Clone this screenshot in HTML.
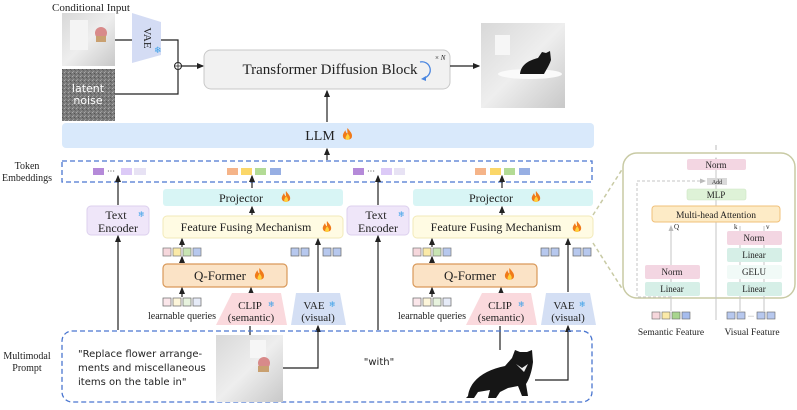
<!DOCTYPE html>
<html><head><meta charset="utf-8"><style>
body{margin:0;background:#fff;}
svg text{font-family:"Liberation Serif",serif;fill:#222;}
.c{font-family:"DejaVu Sans","Liberation Sans",sans-serif !important;}
</style></head><body>
<svg width="797" height="405" viewBox="0 0 797 405" xmlns="http://www.w3.org/2000/svg">
<defs>
<marker id="a" markerWidth="6" markerHeight="6" refX="5" refY="3" orient="auto"><path d="M0,0.5 L6,3 L0,5.5 z" fill="#222"/></marker>
<marker id="g" markerWidth="6" markerHeight="6" refX="5" refY="3" orient="auto"><path d="M0,0.5 L6,3 L0,5.5 z" fill="#bbb"/></marker>
<symbol id="f" viewBox="0 0 10 12"><path d="M5,0 C7,3 10,5 9,8.5 C8,11.5 2,11.5 1,8.5 C0,6 2,4 3,2 C3.5,4 4,5 5,5 C5,3 4.5,1.5 5,0z" fill="#f07a1a"/><path d="M5,5 C6.5,7 7.5,8 6.8,10 C6,11.3 4,11.3 3.3,10 C2.8,8.5 4,7.5 5,5z" fill="#ffd23a"/></symbol>
<linearGradient id="img" x1="0" y1="0" x2="1" y2="1"><stop offset="0" stop-color="#d8d8d8"/><stop offset="0.5" stop-color="#eeeeee"/><stop offset="1" stop-color="#c8c8c8"/></linearGradient>
<pattern id="noise" width="4" height="4" patternUnits="userSpaceOnUse"><rect width="4" height="4" fill="#7a7a7a"/><rect width="1" height="1" fill="#aaa"/><rect x="2" y="1" width="1" height="1" fill="#555"/><rect x="1" y="3" width="1" height="1" fill="#999"/><rect x="3" y="2" width="1" height="1" fill="#666"/></pattern>
</defs>

<text x="91" y="11" font-size="11" text-anchor="middle">Conditional Input</text>
<rect x="62" y="13" width="53" height="53" fill="url(#img)"/>
<rect x="70" y="20" width="18" height="30" fill="#f4f4f4"/>
<circle cx="101" cy="33" r="6" fill="#d88a8a"/><rect x="96" y="36" width="10" height="6" fill="#c9a070"/>
<rect x="62" y="69" width="53" height="52" fill="url(#noise)"/>
<text x="88" y="92" font-size="11" text-anchor="middle" class="c" style="fill:#fff">latent</text>
<text x="88" y="104" font-size="11" text-anchor="middle" class="c" style="fill:#fff">noise</text>
<polygon points="132,13 161,22 161,55 132,63" fill="#d4dcf4"/>
<text x="144" y="38" font-size="11" transform="rotate(90 144 38)" text-anchor="middle">VAE</text>
<text x="154" y="53" font-size="9" class="c" style="fill:#3aa0e8">❄</text>
<path d="M115,40 H132" stroke="#222" stroke-width="1.2" fill="none"/>
<path d="M161,40 H178 V62" stroke="#222" stroke-width="1.2" fill="none"/>
<path d="M115,94 H178 V70" stroke="#222" stroke-width="1.2" fill="none"/>
<circle cx="178" cy="66" r="3.5" fill="#fff" stroke="#222" stroke-width="1"/>
<path d="M175,66 H181 M178,63 V69" stroke="#222" stroke-width="0.8"/>
<path d="M181.5,66 H203" stroke="#222" stroke-width="1.2" marker-end="url(#a)"/>
<rect x="204" y="50" width="246" height="39" rx="7" fill="#f1f1f1" stroke="#c8c8c8"/>
<text x="330" y="74" font-size="15" text-anchor="middle">Transformer Diffusion Block</text>
<path d="M420,62 A8,8 0 1 1 424,78" stroke="#4a86e0" stroke-width="1.3" fill="none"/>
<path d="M421,79 L426,76 L426,81z" fill="#4a86e0"/>
<text x="435" y="60" font-size="7">× <tspan font-style="italic">N</tspan></text>
<path d="M450,66 H479" stroke="#222" stroke-width="1.2" marker-end="url(#a)"/>
<rect x="481" y="23" width="84" height="85" fill="url(#img)"/>
<rect x="495" y="35" width="15" height="20" fill="#f6f6f6"/>
<ellipse cx="530" cy="74" rx="32" ry="5" fill="#fafafa"/>
<path d="M520,74 C521,64 530,60 538,58 L542,52 L546,53 L550,51 L551,60 C549,66 546,70 544,74 z" fill="#161616"/>
<path d="M327,122 V91" stroke="#222" stroke-width="1.2" marker-end="url(#a)"/>
<rect x="62" y="123" width="532" height="25" rx="4" fill="#d9e9fb"/>
<text x="320" y="140" font-size="14" text-anchor="middle">LLM</text>
<use href="#f" x="342" y="128" width="11" height="13"/>
<path d="M327,160 V149" stroke="#222" stroke-width="1.2" marker-end="url(#a)"/>

<text x="27" y="169" font-size="10" text-anchor="middle">Token</text>
<text x="27" y="181" font-size="10" text-anchor="middle">Embeddings</text>
<rect x="62" y="161" width="530" height="21" fill="none" stroke="#4a76d0" stroke-width="1.3" stroke-dasharray="5,3"/>
<g>
<rect x="93" y="168" width="11" height="7" fill="#b58ad9"/><text x="107" y="174" font-size="8">···</text>
<rect x="121" y="168" width="11" height="7" fill="#dccaf7"/><rect x="134" y="168" width="12" height="7" fill="#e7e2f4"/>
<rect x="227" y="168" width="11" height="7" fill="#f5b489"/><rect x="241" y="168" width="11" height="7" fill="#fbd769"/>
<rect x="255" y="168" width="11" height="7" fill="#b3db95"/><rect x="270" y="168" width="11" height="7" fill="#97afe3"/>
<rect x="353" y="168" width="11" height="7" fill="#b58ad9"/><text x="367" y="174" font-size="8">···</text>
<rect x="381" y="168" width="11" height="7" fill="#dccaf7"/><rect x="394" y="168" width="11" height="7" fill="#e7e2f4"/>
<rect x="475" y="168" width="11" height="7" fill="#f5b489"/><rect x="490" y="168" width="11" height="7" fill="#fbd769"/>
<rect x="504" y="168" width="11" height="7" fill="#b3db95"/><rect x="519" y="168" width="11" height="7" fill="#97afe3"/>
</g>

<g id="te">
<rect x="87" y="206" width="62" height="29" rx="4" fill="#efe6f9" stroke="#dcd0ee"/>
<text x="116" y="219" font-size="12" text-anchor="middle">Text</text>
<text x="118" y="232" font-size="12" text-anchor="middle">Encoder</text>
<text x="138" y="217" font-size="8" class="c" style="fill:#3aa0e8">❄</text>
<path d="M118,330 V236" stroke="#222" stroke-width="1.2" marker-end="url(#a)"/>
<path d="M118,205 V176" stroke="#222" stroke-width="1.2" marker-end="url(#a)"/>
</g>
<use href="#te" x="260" y="0"/>
<g id="br">
<rect x="163" y="189" width="180" height="17" rx="3" fill="#d8f5f5"/>
<text x="241" y="202" font-size="12" text-anchor="middle">Projector</text>
<use href="#f" x="281" y="191" width="10" height="12"/>
<path d="M252,188 V176" stroke="#222" stroke-width="1.2" marker-end="url(#a)"/>
<path d="M252,215 V207" stroke="#222" stroke-width="1.2" marker-end="url(#a)"/>
<rect x="163" y="216" width="180" height="22" rx="4" fill="#fffbe3" stroke="#f2eab8"/>
<text x="246" y="231" font-size="12" text-anchor="middle">Feature Fusing Mechanism</text>
<use href="#f" x="322" y="221" width="10" height="12"/>
<rect x="163" y="248" width="8" height="8" fill="#f6d7dc" stroke="#777" stroke-width="0.7"/>
<rect x="173" y="248" width="8" height="8" fill="#fbeaa8" stroke="#777" stroke-width="0.7"/>
<rect x="183" y="248" width="8" height="8" fill="#c8e5b4" stroke="#777" stroke-width="0.7"/>
<rect x="193" y="248" width="8" height="8" fill="#b7c8ee" stroke="#777" stroke-width="0.7"/>
<path d="M182,247 V239" stroke="#222" stroke-width="1.2" marker-end="url(#a)"/>
<path d="M182,263 V257" stroke="#222" stroke-width="1.2" marker-end="url(#a)"/>
<rect x="291" y="248" width="8" height="8" fill="#b7c8ee" stroke="#666" stroke-width="0.7"/>
<rect x="301" y="248" width="8" height="8" fill="#b7c8ee" stroke="#666" stroke-width="0.7"/>
<rect x="323" y="248" width="8" height="8" fill="#b7c8ee" stroke="#666" stroke-width="0.7"/>
<rect x="333" y="248" width="8" height="8" fill="#b7c8ee" stroke="#666" stroke-width="0.7"/>
<path d="M318,292 V239" stroke="#222" stroke-width="1.2" marker-end="url(#a)"/>
<rect x="163" y="264" width="124" height="23" rx="4" fill="#fbe3c6" stroke="#d9995a" stroke-width="1.2"/>
<text x="220" y="280" font-size="13" text-anchor="middle">Q-Former</text>
<use href="#f" x="254" y="268" width="11" height="13"/>
<rect x="163" y="298" width="8" height="8" fill="#fbe6ea" stroke="#666" stroke-width="0.7"/>
<rect x="173" y="298" width="8" height="8" fill="#fdf6da" stroke="#666" stroke-width="0.7"/>
<rect x="183" y="298" width="8" height="8" fill="#e7f3de" stroke="#666" stroke-width="0.7"/>
<rect x="193" y="298" width="8" height="8" fill="#e6ebf8" stroke="#666" stroke-width="0.7"/>
<path d="M182,297 V288" stroke="#222" stroke-width="1.2" marker-end="url(#a)"/>
<path d="M251,292 V288" stroke="#222" stroke-width="1.2" marker-end="url(#a)"/>
<text x="182" y="319" font-size="10" text-anchor="middle">learnable queries</text>
<polygon points="232,293 281,293 287,325 216,325" fill="#fad9dd"/>
<text x="250" y="309" font-size="11" text-anchor="middle">CLIP</text>
<text x="268" y="307" font-size="8" class="c" style="fill:#3aa0e8">❄</text>
<text x="251" y="321" font-size="11" text-anchor="middle">(semantic)</text>
<polygon points="296,293 340,293 346,325 291,325" fill="#d4dff4"/>
<text x="314" y="309" font-size="11" text-anchor="middle">VAE</text>
<text x="329" y="307" font-size="8" class="c" style="fill:#3aa0e8">❄</text>
<text x="318" y="321" font-size="11" text-anchor="middle">(visual)</text>
</g>
<use href="#br" x="250" y="0"/>
<path d="M250,335 V326" stroke="#222" stroke-width="1.2" fill="none"/>
<path d="M283,368 H318 V326" stroke="#222" stroke-width="1.2" fill="none" marker-end="url(#a)"/>
<path d="M500,350 V326" stroke="#222" stroke-width="1.2" fill="none"/>
<path d="M535,380 H568 V326" stroke="#222" stroke-width="1.2" fill="none" marker-end="url(#a)"/>

<text x="27" y="359" font-size="10" text-anchor="middle">Multimodal</text>
<text x="27" y="371" font-size="10" text-anchor="middle">Prompt</text>
<rect x="62" y="331" width="530" height="71" rx="10" fill="none" stroke="#4a76d0" stroke-width="1.3" stroke-dasharray="5,3"/>
<rect x="216" y="335" width="67" height="67" fill="url(#img)"/>
<rect x="250" y="340" width="16" height="18" fill="#f6f6f6"/>
<circle cx="264" cy="363" r="6" fill="#d88a8a"/><rect x="258" y="366" width="11" height="6" fill="#c9a070"/>
<text x="78" y="357" font-size="10" class="c">"Replace flower arrange-</text>
<text x="78" y="371" font-size="10" class="c">ments and miscellaneous</text>
<text x="78" y="385" font-size="10" class="c">items on the table in"</text>
<text x="379" y="365" font-size="10" class="c" text-anchor="middle">"with"</text>
<path d="M468,396 C470,380 485,370 505,366 L512,358 L515,350 L520,352 L527,352 L532,350 L533,362 C532,370 530,378 526,384 L528,396 L522,396 L518,386 L508,388 L500,392 L496,398 L488,398 L490,390 L478,392 L474,398 L466,398z" fill="#161616"/>
<path d="M516,364 L522,368 L528,364 L524,372 Z" fill="#eee"/>

<path d="M593,215 L623,168 M593,243 L623,290" stroke="#c8caa4" stroke-width="1.5" stroke-dasharray="4,3" fill="none"/>
<rect x="623" y="153" width="172" height="145" rx="14" fill="none" stroke="#c8caa4" stroke-width="1.5"/>
<path d="M716,150 V145" stroke="#bbb" stroke-width="1"/>
<path d="M716,300 V158" stroke="#c4c4c4" stroke-width="1" marker-end="url(#g)"/>
<path d="M716,320 V300 M740,311 V226 M764,311 V226" stroke="#c4c4c4" stroke-width="1" fill="none"/>
<path d="M671,311 V226" stroke="#c4c4c4" stroke-width="1" marker-end="url(#g)"/>
<path d="M671,297 H637 V181 H705" stroke="#c4c4c4" stroke-width="1" stroke-dasharray="3,2" fill="none" marker-end="url(#g)"/>
<rect x="687" y="159" width="59" height="11" rx="2" fill="#f3d6e2"/>
<text x="716" y="168" font-size="9" text-anchor="middle">Norm</text>
<rect x="707" y="178" width="20" height="7" fill="#d9d9d9"/>
<text x="717" y="184" font-size="6" text-anchor="middle">Add</text>
<rect x="687" y="189" width="59" height="11" rx="2" fill="#def2d7" stroke="#cde6c3" stroke-width="0.6"/>
<text x="716" y="198" font-size="9" text-anchor="middle">MLP</text>
<rect x="652" y="206" width="128" height="16" rx="3" fill="#fdebc6" stroke="#f0c07a"/>
<text x="716" y="218" font-size="9.5" text-anchor="middle">Multi-head Attention</text>
<text x="674" y="229" font-size="7">Q</text>
<text x="734" y="229" font-size="7">k</text>
<text x="766" y="229" font-size="7">v</text>
<rect x="727" y="231" width="55" height="14" rx="2" fill="#f3d6e2"/>
<text x="754" y="241" font-size="9" text-anchor="middle">Norm</text>
<rect x="727" y="248" width="55" height="14" rx="2" fill="#d6efe7"/>
<text x="754" y="258" font-size="9" text-anchor="middle">Linear</text>
<rect x="727" y="265" width="55" height="14" rx="2" fill="#f1faf7"/>
<text x="754" y="275" font-size="9" text-anchor="middle">GELU</text>
<rect x="727" y="282" width="55" height="14" rx="2" fill="#d6efe7"/>
<text x="754" y="292" font-size="9" text-anchor="middle">Linear</text>
<rect x="645" y="265" width="55" height="14" rx="2" fill="#f3d6e2"/>
<text x="672" y="275" font-size="9" text-anchor="middle">Norm</text>
<rect x="645" y="282" width="55" height="14" rx="2" fill="#d6efe7"/>
<text x="672" y="292" font-size="9" text-anchor="middle">Linear</text>
<rect x="652" y="312" width="8" height="7" fill="#f6d7dc" stroke="#666" stroke-width="0.6"/>
<rect x="662" y="312" width="8" height="7" fill="#fbeaa8" stroke="#666" stroke-width="0.6"/>
<rect x="672" y="312" width="8" height="7" fill="#a8d58e" stroke="#666" stroke-width="0.6"/>
<rect x="682" y="312" width="8" height="7" fill="#a6bced" stroke="#666" stroke-width="0.6"/>
<rect x="727" y="312" width="8" height="7" fill="#b7c8ee" stroke="#666" stroke-width="0.6"/>
<rect x="737" y="312" width="8" height="7" fill="#b7c8ee" stroke="#666" stroke-width="0.6"/>
<text x="748" y="318" font-size="6">···</text>
<rect x="757" y="312" width="8" height="7" fill="#b7c8ee" stroke="#666" stroke-width="0.6"/>
<rect x="767" y="312" width="8" height="7" fill="#b7c8ee" stroke="#666" stroke-width="0.6"/>
<text x="671" y="335" font-size="9.5" text-anchor="middle">Semantic Feature</text>
<text x="752" y="335" font-size="9.5" text-anchor="middle">Visual Feature</text>
</svg>
</body></html>
